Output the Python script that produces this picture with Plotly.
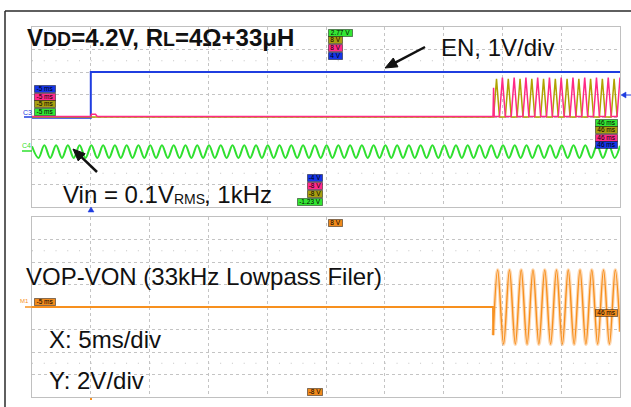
import math
import plotly.graph_objects as go

W, H = 631, 407

# ---------------- channel data (time in ms, values in V) ----------------
# EN (C1, 1 V/div)
en_t = [-5.0, 0.0, 0.0, 45.0]
en_v = [-0.03, -0.03, 2.0, 2.0]

# VOP / VON outputs (2 V/div): idle level, then half-wave pulses
vop_idle_t = [-5.0, 0.0, 0.05, 0.4, 0.55, 34.2, 34.25, 34.3]
vop_idle_v = [0.05, 0.05, 0.25, 0.25, 0.05, 0.05, 2.6, 0.05]
vop_peak_ms = [35.0, 36.0, 37.0, 38.0, 39.0, 40.0, 41.0, 42.0, 43.0, 44.0, 45.0]
vop_peak_v = [3.5, 3.5, 3.5, 3.5, 3.5, 3.5, 3.5, 3.5, 3.5, 3.5, 3.5]

von_idle_t = [-5.0, 34.25]
von_idle_v = [0.0, 0.0]
von_peak_ms = [34.5, 35.5, 36.5, 37.5, 38.5, 39.5, 40.5, 41.5, 42.5, 43.5, 44.5]
von_peak_v = [3.4, 3.4, 3.4, 3.4, 3.4, 3.4, 3.4, 3.4, 3.4, 3.4, 3.4]
pulse_half_ms = 0.25

# Vin (C4, 0.5 V/div): 1 kHz tone, peak / trough instants
vin_peak_ms = [-3.95, -2.95, -1.95, -0.95, 0.05, 1.05, 2.05, 3.05, 4.05, 5.05,
               6.05, 7.05, 8.05, 9.05, 10.05, 11.05, 12.05, 13.05, 14.05, 15.05,
               16.05, 17.05, 18.05, 19.05, 20.05, 21.05, 22.05, 23.05, 24.05, 25.05,
               26.05, 27.05, 28.05, 29.05, 30.05, 31.05, 32.05, 33.05, 34.05, 35.05,
               36.05, 37.05, 38.05, 39.05, 40.05, 41.05, 42.05, 43.05, 44.05]
vin_trough_ms = [-4.45, -3.45, -2.45, -1.45, -0.45, 0.55, 1.55, 2.55, 3.55, 4.55,
                 5.55, 6.55, 7.55, 8.55, 9.55, 10.55, 11.55, 12.55, 13.55, 14.55,
                 15.55, 16.55, 17.55, 18.55, 19.55, 20.55, 21.55, 22.55, 23.55, 24.55,
                 25.55, 26.55, 27.55, 28.55, 29.55, 30.55, 31.55, 32.55, 33.55, 34.55,
                 35.55, 36.55, 37.55, 38.55, 39.55, 40.55, 41.55, 42.55, 43.55, 44.55]
vin_peak_v = 0.14
vin_trough_v = -0.14
vin_ends_t = [-5.0, 45.0]
vin_ends_v = [0.12, 0.13]

# VOP-VON after 33 kHz lowpass (M1, 2 V/div)
diff_t = [-5.0, 34.2, 34.22, 34.6, 35.1, 35.6, 36.1, 36.6, 37.1, 37.6, 38.1, 38.6,
          39.1, 39.6, 40.1, 40.6, 41.1, 41.6, 42.1, 42.6, 43.1, 43.6, 44.1, 44.6, 45.0]
diff_v = [0.0, 0.0, -2.5, 3.3, -3.3, 3.3, -3.3, 3.3, -3.3, 3.3, -3.3, 3.3,
          -3.3, 3.3, -3.3, 3.3, -3.3, 3.3, -3.3, 3.3, -3.3, 3.3, -3.3, 3.3, -2.2]
diff_onset_ms = 34.22

# ---------------- styling ----------------
BLUE = '#1f3de0'
PINK = '#ff2a85'
OLIVE = '#b0a300'
GREEN = '#2fe02f'
ORANGE = '#f7901e'
GRID = '#c4c4c4'
BORDER = '#c0c0c0'
FONT = 'Arial, Liberation Sans, sans-serif'


def px(x):
    return x / W


def py(y):
    return 1 - y / H


def pulse_train(idle_t, idle_v, peaks, heights, base, half):
    pts = list(zip(idle_t, idle_v))
    for p, h in zip(peaks, heights):
        pts += [(p - half, base), (p, h), (p + half, base)]
    pts.sort(key=lambda q: q[0])
    return [q[0] for q in pts], [q[1] for q in pts]


def tri_path(points):
    (x0, y0), (x1, y1), (x2, y2) = points
    return 'M {} {} L {} {} L {} {} Z'.format(px(x0), py(y0), px(x1), py(y1), px(x2), py(y2))


vop_t, vop_v = pulse_train(vop_idle_t, vop_idle_v, vop_peak_ms, vop_peak_v, 0.05, pulse_half_ms)
von_t, von_v = pulse_train(von_idle_t, von_idle_v, von_peak_ms, von_peak_v, 0.0, pulse_half_ms)

vin_pts = sorted(list(zip(vin_ends_t, vin_ends_v))
                 + [(t, vin_peak_v) for t in vin_peak_ms]
                 + [(t, vin_trough_v) for t in vin_trough_ms])
vin_t = [q[0] for q in vin_pts]
vin_v = [q[1] for q in vin_pts]

split = next(i for i, t in enumerate(diff_t) if t >= diff_onset_ms)
flat_t, flat_v = diff_t[:split + 1], diff_v[:split + 1]
burst_t, burst_v = diff_t[split:], diff_v[split:]

fig = go.Figure()
fig.add_trace(go.Scatter(x=vin_t, y=vin_v, xaxis='x', yaxis='y4', mode='lines',
                         line=dict(color=GREEN, width=2, shape='spline'), hoverinfo='skip'))
fig.add_trace(go.Scatter(x=von_t, y=von_v, xaxis='x', yaxis='y3', mode='lines',
                         line=dict(color=OLIVE, width=1.5), hoverinfo='skip'))
fig.add_trace(go.Scatter(x=vop_t, y=vop_v, xaxis='x', yaxis='y3', mode='lines',
                         line=dict(color=PINK, width=1.5), hoverinfo='skip'))
fig.add_trace(go.Scatter(x=en_t, y=en_v, xaxis='x', yaxis='y', mode='lines',
                         line=dict(color=BLUE, width=2), hoverinfo='skip'))
fig.add_trace(go.Scatter(x=burst_t, y=burst_v, xaxis='x2', yaxis='y2', mode='lines',
                         line=dict(color='rgba(250,170,90,0.45)', width=3.5, shape='spline'),
                         hoverinfo='skip'))
fig.add_trace(go.Scatter(x=flat_t, y=flat_v, xaxis='x2', yaxis='y2', mode='lines',
                         line=dict(color=ORANGE, width=1.8), hoverinfo='skip'))
fig.add_trace(go.Scatter(x=burst_t, y=burst_v, xaxis='x2', yaxis='y2', mode='lines',
                         line=dict(color=ORANGE, width=1.4, shape='spline'), hoverinfo='skip'))

axis_common = dict(showgrid=True, gridcolor=GRID, griddash='dot', gridwidth=1,
                   showticklabels=False, ticks='', zeroline=False, showline=True,
                   mirror=True, linecolor=BORDER, linewidth=1, fixedrange=True)
x_dom = [px(32), px(620)]

shapes = []
# sparse minor-division dots
for yref, xref, lvl in [('y', 'x', 2.5), ('y', 'x', -2.5), ('y2', 'x2', 5), ('y2', 'x2', -5)]:
    shapes.append(dict(type='line', xref=xref, yref=yref, x0=-5, x1=45, y0=lvl, y1=lvl,
                       line=dict(color=GRID, width=1, dash='1px,10.76px'), layer='below'))
# outer frame
shapes.append(dict(type='line', xref='paper', yref='paper', x0=px(5), x1=px(5), y0=py(11), y1=0,
                   line=dict(color='#2a2a2a', width=1.5)))
shapes.append(dict(type='line', xref='paper', yref='paper', x0=px(5), x1=1, y0=py(11), y1=py(11),
                   line=dict(color='#2a2a2a', width=1.5)))
# channel reference ticks at left edge
for color, y, x0 in [(BLUE, 117, 24), (GREEN, 151, 22), (ORANGE, 307, 25)]:
    shapes.append(dict(type='line', xref='paper', yref='paper', x0=px(x0), x1=px(32),
                       y0=py(y), y1=py(y), line=dict(color=color, width=1.5)))
# trigger position / level markers
shapes.append(dict(type='path', xref='paper', yref='paper',
                   path=tri_path([(88, 212), (94, 212), (91, 207)]),
                   fillcolor=BLUE, line=dict(color=BLUE, width=0.5)))
shapes.append(dict(type='path', xref='paper', yref='paper',
                   path=tri_path([(621, 95), (626, 92), (626, 98)]),
                   fillcolor=BLUE, line=dict(color=BLUE, width=0.5)))
shapes.append(dict(type='line', xref='paper', yref='paper', x0=px(626), x1=1,
                   y0=py(95), y1=py(95), line=dict(color=BLUE, width=1)))
shapes.append(dict(type='rect', xref='paper', yref='paper', x0=px(90), x1=px(92),
                   y0=py(400), y1=py(398), line=dict(width=0), fillcolor=ORANGE))

# pointer arrows: tail -> head, in pixels
HEAD_LEN, HEAD_HALF = 12.0, 5.0
for tx, ty, hx, hy in [(425, 47, 385, 68), (97, 172, 73, 149)]:
    dx, dy = hx - tx, hy - ty
    n = math.hypot(dx, dy)
    ux, uy = dx / n, dy / n
    bx, by = hx - HEAD_LEN * ux, hy - HEAD_LEN * uy
    qx, qy = -uy * HEAD_HALF, ux * HEAD_HALF
    shapes.append(dict(type='line', xref='paper', yref='paper',
                       x0=px(tx), y0=py(ty), x1=px(bx + 2 * ux), y1=py(by + 2 * uy),
                       line=dict(color='#111', width=2.5)))
    shapes.append(dict(type='path', xref='paper', yref='paper',
                       path=tri_path([(hx, hy), (bx + qx, by + qy), (bx - qx, by - qy)]),
                       fillcolor='#111', line=dict(color='#111', width=1)))

annotations = []
# text, left x, cap-centre y, font size (the RMS subscript is set as its own run)
labels = [
    ("<b>V<span style='font-size:19.5px'>DD</span>=4.2V, R<span style='font-size:19.5px'>L</span>=4\u03a9+33\u03bcH</b>",
     25, 37.5, 24),
    ("EN, 1V/div", 439, 47.3, 24),
    ("Vin = 0.1V", 61, 194, 24),
    ("RMS", 171.5, 198.5, 14),
    (", 1kHz", 202, 194, 24),
    ("VOP-VON (33kHz Lowpass Filer)", 24, 276.5, 24),
    ("X: 5ms/div", 47, 339.5, 24),
    ("Y: 2V/div", 47, 380, 24),
]
for text, x, y, size in labels:
    annotations.append(dict(text=text, x=px(x), y=py(y), xref='paper', yref='paper',
                            xanchor='left', yanchor='middle', showarrow=False,
                            font=dict(family=FONT, size=size, color='#111')))

# scope readout tags: text, left x, centre y, width, colour
TAG_BLUE, TAG_PINK, TAG_OLIVE, TAG_GREEN, TAG_ORANGE = '#1535e8', '#ff2a8a', '#a89e10', '#33e633', '#f08a1c'
tags = [
    ('-5 ms', 34, 89, 22, TAG_BLUE), ('-5 ms', 34, 96.5, 22, TAG_PINK),
    ('-5 ms', 34, 104, 22, TAG_OLIVE), ('-5 ms', 34, 111.5, 22, TAG_GREEN),
    ('2.77 V', 328, 32.5, 25, TAG_GREEN), ('8 V', 328, 40.5, 15, TAG_OLIVE),
    ('8 V', 328, 48.3, 15, TAG_PINK), ('4 V', 328, 56, 15, TAG_BLUE),
    ('-4 V', 307, 177.5, 16, TAG_BLUE), ('-8 V', 307, 185.5, 16, TAG_PINK),
    ('-8 V', 307, 194, 16, TAG_OLIVE), ('-1.23 V', 297, 202, 26, TAG_GREEN),
    ('46 ms', 595, 122.5, 23, TAG_GREEN), ('46 ms', 595, 130, 23, TAG_OLIVE),
    ('46 ms', 595, 137.7, 23, TAG_PINK), ('46 ms', 595, 145.3, 23, TAG_BLUE),
    ('-5 ms', 34, 302, 22, TAG_ORANGE), ('8 V', 328, 222.5, 15, TAG_ORANGE),
    ('46 ms', 595, 312.7, 23, TAG_ORANGE), ('-8 V', 307, 391.7, 16, TAG_ORANGE),
]
for text, x, y, w, color in tags:
    annotations.append(dict(text=text, x=px(x), y=py(y), xref='paper', yref='paper',
                            xanchor='left', yanchor='middle', showarrow=False,
                            width=w - 2, height=5.5, borderpad=0, borderwidth=1,
                            bgcolor=color, bordercolor='rgba(0,0,0,0.45)',
                            font=dict(family=FONT, size=6.5, color='#000')))

# channel names
for text, x, y, color, size in [('C3', 27, 112, BLUE, 7), ('C4', 26, 145, GREEN, 7),
                                ('M1', 24, 300.5, ORANGE, 6)]:
    annotations.append(dict(text=text, x=px(x), y=py(y), xref='paper', yref='paper',
                            xanchor='center', yanchor='middle', showarrow=False,
                            font=dict(family=FONT, size=size, color=color)))

fig.update_layout(
    width=W, height=H, autosize=False,
    margin=dict(l=0, r=0, t=0, b=0, pad=0),
    paper_bgcolor='white', plot_bgcolor='white',
    showlegend=False,
    xaxis=dict(domain=x_dom, range=[-5, 45], dtick=5, tick0=-5, anchor='y', **axis_common),
    yaxis=dict(domain=[py(207), py(27)], range=[-4, 4], dtick=1, tick0=-4, anchor='x', **axis_common),
    yaxis3=dict(overlaying='y', range=[-8, 8], visible=False, anchor='x', fixedrange=True),
    yaxis4=dict(overlaying='y', range=[-1.23, 2.77], visible=False, anchor='x', fixedrange=True),
    xaxis2=dict(domain=x_dom, range=[-5, 45], dtick=5, tick0=-5, anchor='y2', **axis_common),
    yaxis2=dict(domain=[py(397), py(217)], range=[-8, 8], dtick=2, tick0=-8, anchor='x2', **axis_common),
    shapes=shapes,
    annotations=annotations,
)

fig.write_html("out.html")
